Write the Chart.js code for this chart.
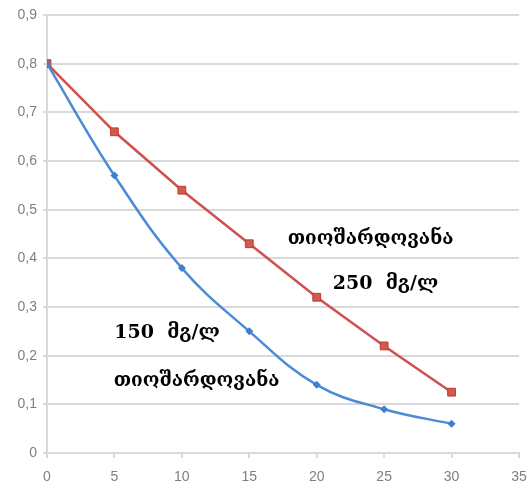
<!DOCTYPE html>
<html>
<head>
<meta charset="utf-8">
<script src="https://cdn.jsdelivr.net/npm/chart.js@4/dist/chart.umd.min.js"></script>
<style>
  html, body { margin: 0; padding: 0; background: #fff; }
  #wrap { width: 529px; height: 488px; position: relative; }
</style>
</head>
<body>
<div id="wrap"><canvas id="chart"></canvas></div>
<script>
// ── Data ──
const days = [0, 5, 10, 15, 20, 25, 30];
const series250 = [0.8, 0.66, 0.54, 0.43, 0.32, 0.22, 0.125];
const series150 = [0.8, 0.57, 0.38, 0.25, 0.14, 0.09, 0.06];

// Text labels placed in data units: [text, x, y]
const notes = [
  ['თიოშარდოვანა', 24.0, 0.44],
  ['250  მგ/ლ', 25.1, 0.347],
  ['150  მგ/ლ', 8.9, 0.246],
  ['თიოშარდოვანა', 11.1, 0.147],
];

const gridColor = '#d9d9d9';
const tickColor = '#7f7f7f';

const pts = ys => days.map((x, i) => ({ x, y: ys[i] }));
const fmtComma = v => (v === 0 ? '0' : v.toFixed(1).replace('.', ','));

// ── Text annotations ──
const notesPlugin = {
  id: 'notes',
  afterDatasetsDraw(chart) {
    const { ctx, scales } = chart;
    ctx.save();
    ctx.fillStyle = '#000';
    ctx.font = 'bold 19px "DejaVu Serif", serif';
    ctx.textAlign = 'center';
    ctx.textBaseline = 'middle';
    notes.forEach(([t, x, y]) => {
      ctx.fillText(t, scales.x.getPixelForValue(x), scales.y.getPixelForValue(y));
    });
    ctx.restore();
  },
};

const tickFont = { family: 'Liberation Sans', size: 14 };

new Chart(document.getElementById('chart'), {
  type: 'line',
  data: {
    datasets: [
      {
        label: '150 მგ/ლ',
        data: pts(series150),
        borderColor: '#4a8ad6',
        backgroundColor: '#3f7fd0',
        borderWidth: 2.5,
        tension: 0.4,
        pointStyle: 'rectRot',
        pointRadius: 4,
        pointBorderWidth: 0,
      },
      {
        label: '250 მგ/ლ',
        data: pts(series250),
        borderColor: '#d0504d',
        backgroundColor: '#d05a50',
        borderWidth: 2.5,
        tension: 0,
        pointStyle: 'rect',
        pointRadius: 5.5,
        pointBorderColor: '#c0392f',
        pointBorderWidth: 1,
      },
    ],
  },
  options: {
    responsive: true,
    maintainAspectRatio: false,
    animation: false,
    layout: { padding: { top: 15, right: 0, left: 0, bottom: 0 } },
    plugins: { legend: { display: false }, tooltip: { enabled: false } },
    scales: {
      x: {
        type: 'linear',
        min: 0,
        max: 35,
        ticks: { stepSize: 5, color: tickColor, font: tickFont, padding: 11 },
        grid: { display: true, drawOnChartArea: false, drawTicks: true, tickLength: 5, color: gridColor, lineWidth: 2 },
        border: { color: gridColor, width: 2 },
        afterFit(s) { s.height = 35; s.paddingRight = 10; },
      },
      y: {
        min: 0,
        max: 0.9,
        ticks: { stepSize: 0.1, color: tickColor, font: tickFont, padding: 6, callback: fmtComma },
        grid: { color: gridColor, lineWidth: 2, tickLength: 4 },
        border: { color: gridColor, width: 2 },
        afterFit(s) { s.width = 47; },
      },
    },
  },
  plugins: [notesPlugin],
});
</script>
</body>
</html>
